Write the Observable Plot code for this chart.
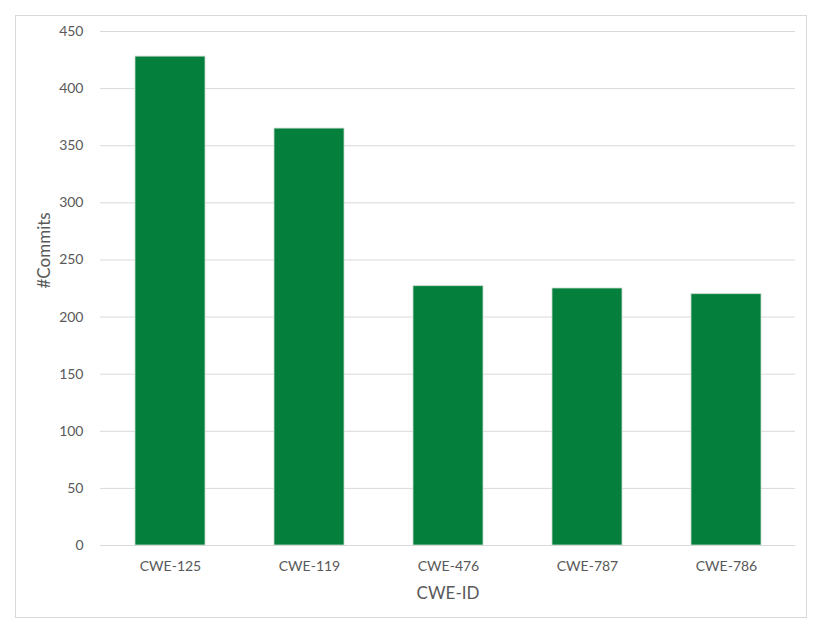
<!DOCTYPE html>
<html>
<head>
<meta charset="utf-8">
<script src="https://cdn.jsdelivr.net/npm/d3@7"></script>
<script src="https://cdn.jsdelivr.net/npm/@observablehq/plot@0.6"></script>
<style>
  html, body { margin: 0; padding: 0; background: #fff; }
  #chart svg { display: block; }
</style>
</head>
<body>
<div id="chart"></div>
<script>
const categories = ["CWE-125", "CWE-119", "CWE-476", "CWE-787", "CWE-786"];
const commits = [428, 365, 227, 225, 220];
const yTicks = [0, 50, 100, 150, 200, 250, 300, 350, 400, 450];

const data = categories.map((c, i) => ({cwe: c, commits: commits[i]}));
const font = "Lato, 'Open Sans', sans-serif";
const textColor = "#595959";

const border = (index, scales, values, dims) => {
  const r = document.createElementNS("http://www.w3.org/2000/svg", "rect");
  r.setAttribute("x", 15.5);
  r.setAttribute("y", 15.5);
  r.setAttribute("width", dims.width - 15 - 24);
  r.setAttribute("height", dims.height - 15 - 25);
  r.setAttribute("fill", "none");
  r.setAttribute("stroke", "#d9d9d9");
  return r;
};

const chart = Plot.plot({
  width: 830,
  height: 642,
  marginLeft: 100,
  marginRight: 35,
  marginTop: 31,
  marginBottom: 97,
  style: {fontFamily: font, fontSize: "14px", color: textColor, background: "#fff"},
  x: {domain: categories, paddingInner: 0.5, paddingOuter: 0.25, label: null},
  y: {domain: [0, 450], ticks: yTicks, label: null},
  marks: [
    border,
    Plot.gridY(yTicks, {stroke: "#d9d9d9", strokeOpacity: 1}),
    Plot.barY(data, {x: "cwe", y: "commits", fill: "#04803c", stroke: "#c8d8cc", strokeWidth: 0.8}),
    Plot.axisY(yTicks, {tickSize: 0, tickPadding: 17, fontSize: 14, fill: textColor, label: null}),
    Plot.axisX({tickSize: 0, tickPadding: 16, fontSize: 14, fill: textColor, label: null}),
    Plot.text(["#Commits"], {frameAnchor: "left", dx: -56, rotate: -90, fontSize: 17, fill: textColor}),
    Plot.text(["CWE-ID"], {frameAnchor: "bottom", dy: 53, fontSize: 17, fill: textColor})
  ]
});
document.getElementById("chart").appendChild(chart);
</script>
</body>
</html>
